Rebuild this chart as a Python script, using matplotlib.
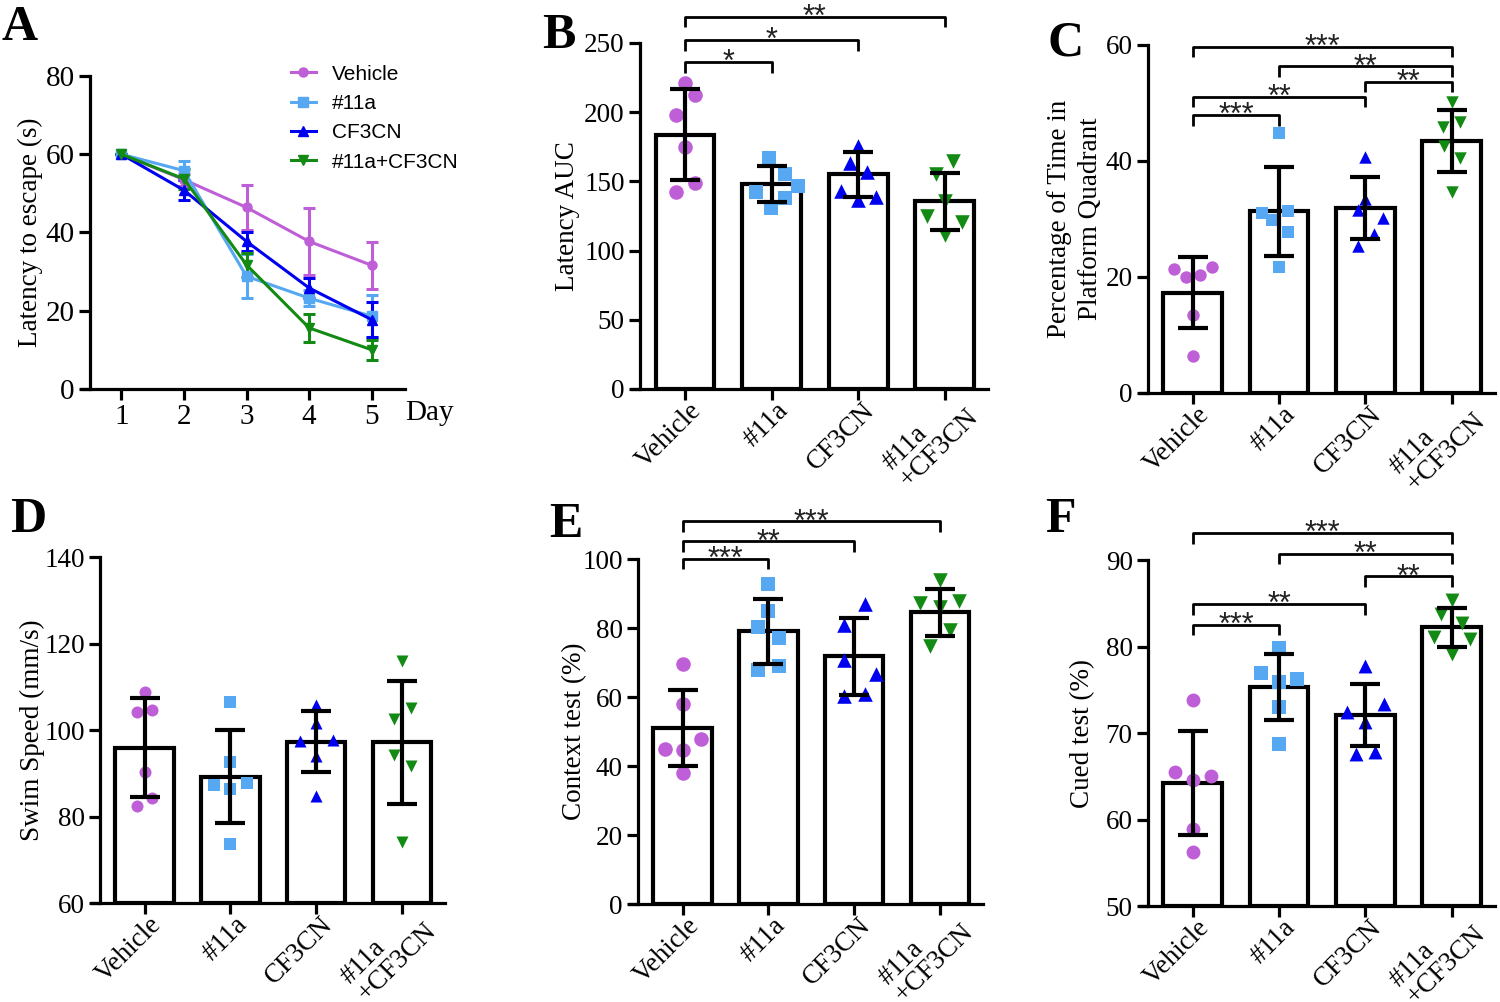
import matplotlib
matplotlib.use('Agg')
import matplotlib.pyplot as plt
import matplotlib.transforms as mtransforms
from matplotlib.lines import Line2D
import numpy as np

plt.rcParams['font.family'] = 'Liberation Serif'

# ---------------- data ----------------
groups = ['Vehicle', '#11a', 'CF3CN', '#11a\n+CF3CN']
colors = ['#BF5FD8', '#56A8F2', '#0000F0', '#138A13']
markers = ['o', 's', '^', 'v']

# Panel A: latency to escape over days (mean, SEM)
days = [1, 2, 3, 4, 5]
a_vehicle = [60, 53.5, 46.4, 37.7, 31.6]
a_vehicle_err = [0, 1.5, 5.8, 8.5, 6.0]
a_11a = [60, 55.8, 28.8, 23.2, 18.6]
a_11a_err = [0, 2.5, 5.6, 2.0, 5.5]
a_cf3cn = [60, 50.8, 37.7, 25.8, 17.7]
a_cf3cn_err = [0, 2.5, 2.5, 2.5, 4.5]
a_combo = [60, 53.7, 31.7, 15.6, 10.0]
a_combo_err = [0, 2.5, 3.0, 3.5, 2.5]

# Panel B: Latency AUC
b_means = [183.8, 148, 155, 135.6]
b_sd = [33, 13, 16, 20.5]
b_points = [[221, 212.7, 198, 174.6, 149, 142.3],
            [167, 155, 147, 142, 138, 131],
            [175.3, 163, 157, 142.8, 139, 136.8],
            [164.5, 155, 135.6, 124.8, 121, 111.5]]

# Panel C: Percentage of time in platform quadrant
c_means = [17.3, 31.3, 31.9, 43.5]
c_sd = [6.1, 7.6, 5.35, 5.35]
c_points = [[21.4, 21.7, 20.0, 20.4, 13.4, 6.3],
            [44.8, 31.0, 31.3, 29.9, 27.8, 21.7],
            [40.7, 33.4, 31.6, 30.1, 27.4, 25.3],
            [50.1, 46.8, 45.9, 42.5, 40.5, 34.7]]

# Panel D: Swim speed
d_means = [95.9, 89.2, 97.3, 97.2]
d_sd = [11.5, 10.7, 7.1, 14.2]
d_points = [[108.8, 104.2, 104.6, 90.2, 84.2, 82.5],
            [106.5, 92.7, 87.3, 87.7, 86.4, 73.6],
            [105.8, 101.7, 97.5, 97.7, 94.1, 84.8],
            [116.0, 105.0, 102.5, 94.2, 91.7, 74.1]]

# Panel E: Context test
e_means = [50.9, 79.0, 71.8, 84.5]
e_sd = [11.0, 9.3, 11.1, 6.7]
e_points = [[69.6, 58.0, 47.8, 44.9, 44.7, 38.1],
            [92.7, 85.0, 80.2, 77.1, 67.7, 69.0],
            [87.0, 80.9, 70.8, 66.7, 60.2, 60.8],
            [94.0, 87.2, 87.7, 86.1, 79.3, 74.7]]

# Panel F: Cued test
f_means = [64.2, 75.3, 72.1, 82.2]
f_sd = [6.0, 3.8, 3.6, 2.2]
f_points = [[73.8, 65.5, 65.0, 64.6, 58.9, 56.2],
            [79.8, 76.9, 76.2, 75.9, 73.0, 68.7],
            [77.7, 73.4, 72.4, 71.3, 67.6, 67.8],
            [85.4, 83.8, 82.7, 81.1, 80.9, 79.1]]

# significance brackets: (group i, group j, height, label)
b_sig = [(0, 1, 236, '*'), (0, 2, 252, '*'), (0, 3, 269, '**')]
c_sig = [(0, 1, 47.9, '***'), (0, 2, 51.1, '**'), (2, 3, 53.7, '**'),
         (1, 3, 56.3, '**'), (0, 3, 59.7, '***')]
e_sig = [(0, 1, 100.0, '***'), (0, 2, 105.1, '**'), (0, 3, 110.9, '***')]
f_sig = [(0, 1, 82.5, '***'), (0, 2, 84.9, '**'), (2, 3, 88.1, '**'),
         (1, 3, 90.7, '**'), (0, 3, 93.1, '***')]

# ---------------- layout / style ----------------
# horizontal jitter (category units) for points within each group
b_dx = [[0, 0.11, -0.11, 0, 0.11, -0.11],
        [-0.03, 0.15, 0.3, -0.18, 0.15, -0.01],
        [0, -0.1, 0.1, -0.2, 0.2, 0],
        [0.1, -0.1, 0, -0.2, 0.2, 0]]
c_dx = [[-0.22, 0.22, -0.08, 0.08, 0, 0],
        [0, -0.2, 0.1, -0.08, 0.1, 0],
        [0, 0, -0.09, 0.2, 0.1, -0.09],
        [0, 0.1, -0.1, -0.09, 0.1, 0]]
d_dx = [[0, -0.09, 0.09, 0, 0.09, -0.09],
        [0, 0, -0.19, 0.19, 0, 0],
        [0, 0, -0.19, 0.19, 0, 0],
        [0, 0.1, -0.1, -0.1, 0.1, 0]]
e_dx = [[0, 0, 0.21, -0.21, 0, 0],
        [0, 0, -0.12, 0.12, -0.12, 0.12],
        [0.12, -0.12, -0.12, 0.25, -0.12, 0.12],
        [0, -0.23, 0.22, 0, 0.12, -0.12]]
f_dx = [[0, -0.21, 0.21, 0, 0, 0],
        [0, -0.21, 0.21, 0, 0, 0],
        [0, 0.21, -0.21, 0, -0.11, 0.11],
        [0, -0.12, 0.12, -0.21, 0.21, 0]]

BLACK = 'black'
SPINE_W = 2.3
TICK_FS = 19.5
LABEL_FS = 19.5

fig = plt.figure(figsize=(15, 10.02), dpi=100)


def style_axes(ax, fs=TICK_FS, ext_px=8):
    for s in ['top', 'right']:
        ax.spines[s].set_visible(False)
    for s in ['left', 'bottom']:
        ax.spines[s].set_linewidth(SPINE_W)
    ax.tick_params(direction='out', length=8, width=SPINE_W, labelsize=fs, pad=3)
    # GraphPad style: x axis line starts a little left of the y axis
    x0, x1 = ax.get_xlim()
    w = ax.get_position().width * fig.get_figwidth() * fig.dpi
    ax.spines['bottom'].set_bounds(x0 - ext_px * (x1 - x0) / w, x1)


def place_ylabel(ax, text, off_px, linespacing=1.2):
    ax.set_ylabel(text, fontsize=LABEL_FS, linespacing=linespacing)
    w = ax.get_position().width * fig.get_figwidth() * fig.dpi
    ax.yaxis.set_label_coords(-off_px / w, 0.5)
    ax.yaxis.label.set_va('center')


def bar_panel(rect, means, sds, points, dxs, ylim, yticks, ylabel, ylab_off, sig, msize,
              ylab_ls=1.2):
    ax = fig.add_axes(rect)
    x = np.arange(len(groups))
    ax.bar(x, np.array(means) - ylim[0], bottom=ylim[0], width=0.68,
           color='white', edgecolor=BLACK, linewidth=3.0, zorder=1)
    for i in range(len(groups)):
        px = x[i] + np.array(dxs[i])
        ax.scatter(px, points[i], s=msize, marker=markers[i], color=colors[i],
                   linewidths=0, zorder=2, clip_on=False)
    ax.errorbar(x, means, yerr=sds, fmt='none', ecolor=BLACK, elinewidth=3.0,
                capsize=11, capthick=3.0, zorder=4)
    ax.set_xlim(-0.52, 3.5)
    ax.set_ylim(*ylim)
    ax.set_yticks(yticks)
    ax.set_xticks(x)
    ax.tick_params(axis='x', labelbottom=False)
    # category labels, rotated 45 degrees
    for k, lab in enumerate(groups):
        dy = -9 if '\n' not in lab else 2
        dx = 4
        tr = ax.get_xaxis_transform() + mtransforms.ScaledTranslation(
            dx / 100, dy / 100, fig.dpi_scale_trans)
        ax.text(x[k], 0, lab, transform=tr, rotation=45, ha='right', va='top',
                rotation_mode='anchor', multialignment='left', linespacing=0.95,
                fontsize=TICK_FS)
    place_ylabel(ax, ylabel, ylab_off, ylab_ls)
    style_axes(ax)
    leg = 0.03 * (ylim[1] - ylim[0])
    for (i, j, y, lab) in sig:
        ax.plot([i, i, j, j], [y - leg, y, y, y - leg], color=BLACK, lw=2.0,
                clip_on=False, solid_capstyle='butt')
        ax.annotate(lab, xy=((i + j) / 2, y), xytext=(0, -6.5), textcoords='offset points',
                    ha='center', va='baseline', fontsize=22, family='Liberation Sans',
                    color='#222222', annotation_clip=False)
    return ax


# ---- Panel A ----
axA = fig.add_axes([0.06, 0.6118, 0.21, 0.3124])
a_series = [(a_vehicle, a_vehicle_err), (a_11a, a_11a_err),
            (a_cf3cn, a_cf3cn_err), (a_combo, a_combo_err)]
labels_A = ['Vehicle', '#11a', 'CF3CN', '#11a+CF3CN']
handles = []
for k, (vals, err) in enumerate(a_series):
    axA.errorbar(days, vals, yerr=err, color=colors[k], marker=markers[k],
                 markersize=6.5, lw=2.2, elinewidth=2.2, capsize=4.5, capthick=2.2,
                 clip_on=False)
    handles.append(Line2D([], [], color=colors[k], marker=markers[k],
                          markersize=6.5, lw=2.2, label=labels_A[k]))
axA.set_xlim(0.5, 5.53)
axA.set_ylim(0, 80)
axA.set_yticks([0, 20, 40, 60, 80])
axA.set_xticks(days)
place_ylabel(axA, 'Latency to escape (s)', 60)
style_axes(axA, fs=21)
axA.text(1.0, -0.035, 'Day', transform=axA.transAxes, fontsize=21,
         ha='left', va='top')
axA.legend(handles=handles, loc='upper left', bbox_to_anchor=(0.187, 0.946),
           bbox_transform=fig.transFigure, frameon=False,
           prop={'family': 'Liberation Sans', 'size': 15},
           handlelength=1.2, labelspacing=0.5, handletextpad=0.75, borderpad=0)

# ---- Panel B ----
bar_panel([0.4267, 0.6118, 0.232, 0.3453], b_means, b_sd, b_points, b_dx,
          (0, 250), [0, 50, 100, 150, 200, 250], 'Latency AUC', 73, b_sig, 110)

# ---- Panel C ----
bar_panel([0.7653, 0.6078, 0.2313, 0.3473], c_means, c_sd, c_points, c_dx,
          (0, 60), [0, 20, 40, 60], 'Percentage of Time in\nPlatform Quadrant', 73,
          c_sig, 80, ylab_ls=1.35)

# ---- Panel D ----
bar_panel([0.0667, 0.0988, 0.23, 0.3453], d_means, d_sd, d_points, d_dx,
          (60, 140), [60, 80, 100, 120, 140], 'Swim Speed (mm/s)', 68, [], 75)

# ---- Panel E ----
bar_panel([0.4253, 0.0978, 0.23, 0.3443], e_means, e_sd, e_points, e_dx,
          (0, 100), [0, 20, 40, 60, 80, 100], 'Context test (%)', 63, e_sig, 110)

# ---- Panel F ----
bar_panel([0.7653, 0.0958, 0.2313, 0.3453], f_means, f_sd, f_points, f_dx,
          (50, 90), [50, 60, 70, 80, 90], 'Cued test (%)', 65, f_sig, 100)

# panel letters
for lab, (px, py) in zip('ABCDEF', [(2, 40), (542, 48), (1047, 55),
                                   (10, 532), (549, 537), (1045, 532)]):
    fig.text(px / 1500, 1 - py / 1002, lab, fontsize=36, fontweight='bold',
             family='Liberation Serif', ha='left', va='baseline')

fig.savefig('out.png', dpi=100)
